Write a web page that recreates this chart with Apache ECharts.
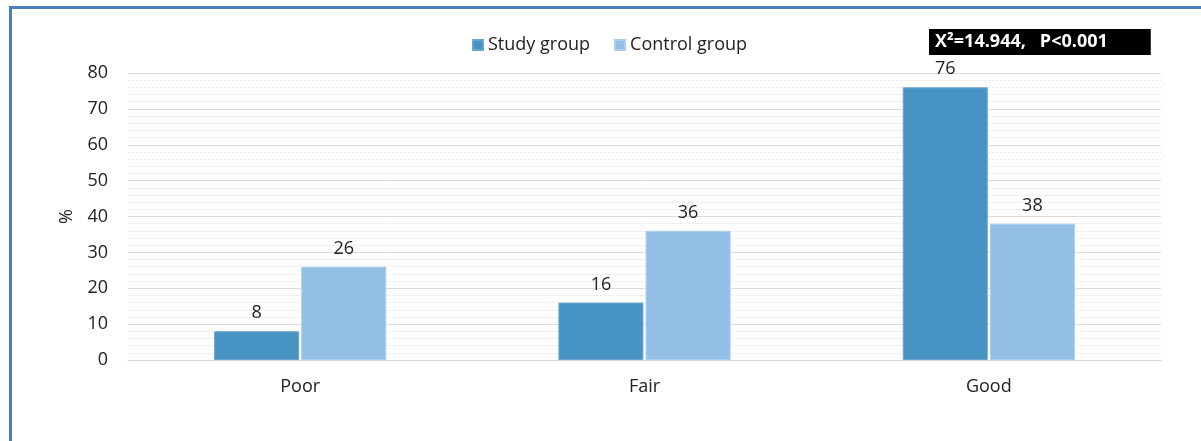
<!DOCTYPE html>
<html>
<head>
<meta charset="utf-8">
<script src="https://cdn.jsdelivr.net/npm/echarts@6/dist/echarts.min.js"></script>
<style>html,body{margin:0;padding:0;background:#fff;}#c{width:1201px;height:441px;}</style>
</head>
<body>
<div id="c"></div>
<script>
var categories = ['Poor', 'Fair', 'Good'];
var studyGroup = [8, 16, 76];
var controlGroup = [26, 36, 38];
var yTicks = [0, 10, 20, 30, 40, 50, 60, 70, 80];
var statText = 'X²=14.944,   P<0.001';

var FONT = '"Open Sans", "Noto Sans", sans-serif';
var chart = echarts.init(document.getElementById('c'), null, {renderer: 'canvas'});
chart.setOption({
  animation: false,
  backgroundColor: '#fff',
  textStyle: {fontFamily: FONT},
  grid: {left: 128, right: 40, top: 73, bottom: 81, containLabel: false},
  legend: {
    data: ['Study group', 'Control group'],
    top: 31, left: 467,
    itemWidth: 10, itemHeight: 10, itemGap: 24,
    icon: 'rect',
    textStyle: {fontSize: 18, color: '#222', fontFamily: FONT}
  },
  title: {
    text: statText,
    left: 929, top: 29,
    backgroundColor: '#000',
    padding: [4, 43, 4, 6],
    textStyle: {color: '#fff', fontSize: 18, fontWeight: 'bold', fontFamily: FONT, lineHeight: 18}
  },
  xAxis: {
    type: 'category',
    data: categories,
    axisLine: {show: true, lineStyle: {color: '#d9d9d9'}},
    axisTick: {show: false},
    axisLabel: {fontSize: 18, color: '#222', margin: 18, fontFamily: FONT}
  },
  yAxis: {
    type: 'value',
    min: yTicks[0], max: yTicks[yTicks.length - 1], interval: 10,
    name: '%',
    nameLocation: 'middle',
    nameGap: 52,
    nameRotate: 90,
    nameTextStyle: {fontSize: 18, color: '#222', fontFamily: FONT},
    axisLine: {show: false},
    axisTick: {show: false},
    axisLabel: {fontSize: 18, color: '#222', margin: 20, fontFamily: FONT},
    splitLine: {show: true, lineStyle: {color: '#dcdcdc', width: 1}},
    minorTick: {show: false, splitNumber: 5},
    minorSplitLine: {show: true, lineStyle: {color: '#ececec', width: 1, type: [3, 1]}}
  },
  series: [
    {
      name: 'Study group', type: 'bar', data: studyGroup,
      barGap: '2.5%', barCategoryGap: '50%',
      itemStyle: {color: '#4793c4', borderColor: '#6aa6cf', borderWidth: 1},
      label: {show: true, position: 'top', distance: 9, fontSize: 18, color: '#222', fontFamily: FONT}
    },
    {
      name: 'Control group', type: 'bar', data: controlGroup,
      barGap: '2.5%', barCategoryGap: '50%',
      itemStyle: {color: '#93bfe6', borderColor: '#a9cdeb', borderWidth: 1},
      label: {show: true, position: 'top', distance: 9, fontSize: 18, color: '#222', fontFamily: FONT}
    }
  ],
  graphic: [
    {type: 'rect', shape: {x: 9, y: 6, width: 3, height: 435}, style: {fill: '#4a7fc0'}, silent: true},
    {type: 'rect', shape: {x: 9, y: 6, width: 1192, height: 3}, style: {fill: '#4a7fc0'}, silent: true}
  ]
});
</script>
</body>
</html>
